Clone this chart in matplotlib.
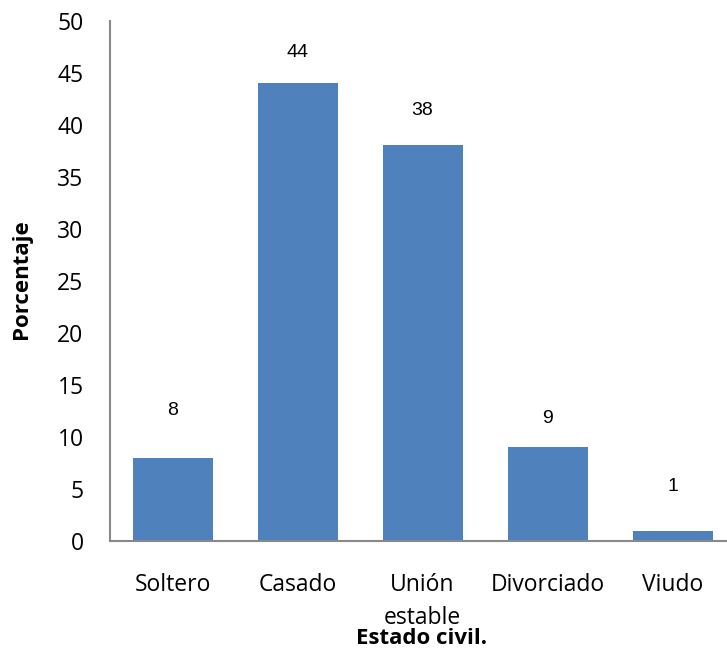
import matplotlib
matplotlib.use("Agg")
import matplotlib.pyplot as plt

categories = ["Soltero", "Casado", "Unión\nestable", "Divorciado", "Viudo"]
values = [8, 44, 38, 9, 1]
yticks = [0, 5, 10, 15, 20, 25, 30, 35, 40, 45, 50]

# vertical gap (points) between each bar top and the centre of its label
label_gap_pt = [34, 22, 25, 21, 32]

BAR_COLOR = "#4f81bd"
AXIS_COLOR = "#898989"
TICK_FONT = ["Open Sans", "DejaVu Sans"]
LABEL_FONT = ["Liberation Sans", "DejaVu Sans"]

fig = plt.figure(figsize=(7.27, 6.48), dpi=100)
ax = fig.add_axes([110 / 727, 1 - 541 / 648, 625 / 727, 520.5 / 648])

x = range(len(categories))
ax.bar(x, values, width=0.64, color=BAR_COLOR, zorder=2)

for xi, v, gap in zip(x, values, label_gap_pt):
    ax.annotate(str(v), (xi, v), xytext=(0, gap), textcoords="offset points",
                ha="center", va="center", fontsize=14, family=LABEL_FONT,
                color="black")

ax.set_xlim(-0.5, len(categories) - 0.5)
ax.set_ylim(0, 50)
ax.set_yticks(yticks)
ax.set_yticklabels([str(t) for t in yticks], family=TICK_FONT, fontsize=16.5)
ax.set_xticks(list(x))
ax.set_xticklabels(categories, family=TICK_FONT, fontsize=16.5, linespacing=1.5,
                   va="top")
ax.tick_params(axis="both", length=0)
ax.tick_params(axis="y", pad=19)
ax.tick_params(axis="x", pad=23)

for side in ("top", "right"):
    ax.spines[side].set_visible(False)
for side in ("left", "bottom"):
    ax.spines[side].set_color(AXIS_COLOR)
    ax.spines[side].set_linewidth(1.5)

ax.set_ylabel("Porcentaje", family=TICK_FONT, fontsize=16, fontweight="bold")
ax.yaxis.set_label_coords(32 / 727, 1 - 279 / 648, transform=fig.transFigure)

fig.text(422 / 727, 1 - 638 / 648, "Estado civil.", family=TICK_FONT,
         fontsize=16, fontweight="bold", ha="center", va="center")

fig.savefig("out.png", dpi=100)
